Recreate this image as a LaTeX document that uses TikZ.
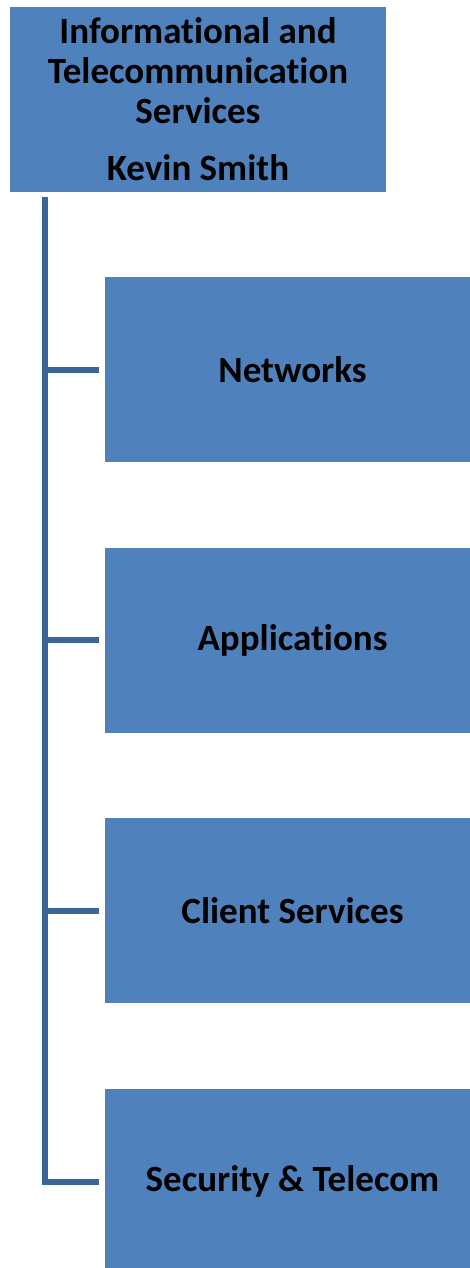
\documentclass[tikz,border=0pt]{standalone}
\usepackage{fontspec}
\setmainfont{Carlito}[Ligatures=NoCommon]
\definecolor{boxblue}{RGB}{79,129,189}
\definecolor{lineblue}{RGB}{60,101,150}

\begin{document}
\begin{tikzpicture}[x=1pt,y=-1pt,
    unit/.style={fill=boxblue,inner sep=0pt,minimum width=376pt,minimum height=185pt,
        font=\fontsize{37}{40}\selectfont\bfseries,align=center},
    link/.style={draw=lineblue,line width=6pt,shorten >=5pt}]

    \useasboundingbox (0,0) rectangle (470,1268);
    \clip (0,0) rectangle (470,1268);

    %head of the department
    \node[unit] (head) at (198,99.5) {Informational and\\Telecommunication\\Services\\[17pt]Kevin Smith};
    \coordinate (trunk) at ([xshift=35pt,yshift=-5pt]head.south west);

    %divisions
    \node[unit] (networks) at (292.5,369.5) {Networks};
    \node[unit] (applications) at (292.5,640) {Applications};
    \node[unit] (client) at (292.5,910.5) {Client Services};
    \node[unit] (security) at (292.5,1181.5) {Security \& Telecom};

    %branches
    \foreach \n in {networks,applications,client,security}
        \draw[link] (trunk) |- (\n.west);
\end{tikzpicture}
\end{document}
